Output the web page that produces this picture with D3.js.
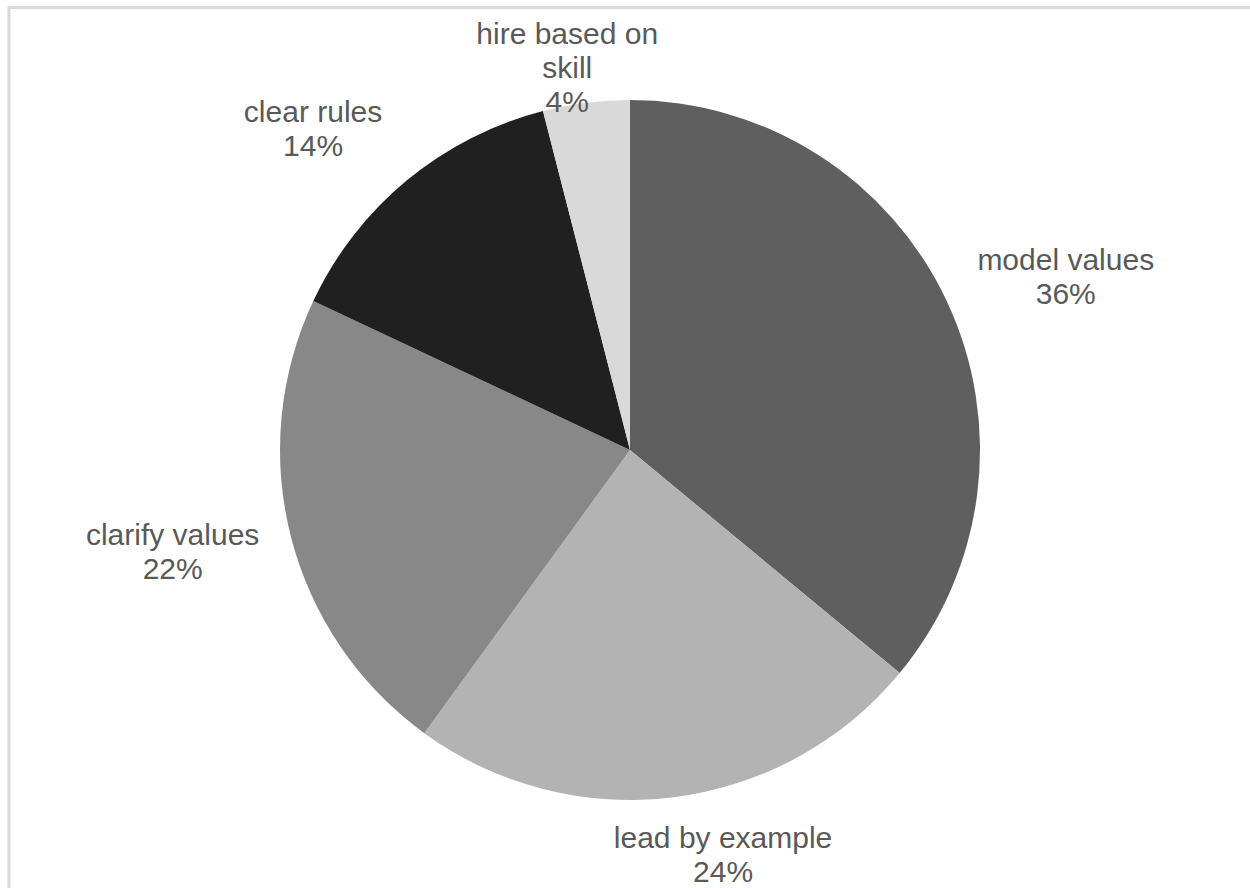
<!DOCTYPE html>
<html>
<head>
<meta charset="utf-8">
<script src="https://d3js.org/d3.v7.min.js"></script>
<style>
  body { margin: 0; background: #fff; }
  svg { display: block; }
  .slice-label { font-family: "Liberation Sans", Arial, sans-serif; font-size: 30px; fill: #595959; }
</style>
</head>
<body>
<svg class="pie-chart" width="1250" height="888"></svg>
<script>
// the data - categories and their share (percent), clockwise from 12 o'clock
var categories = ["model values", "lead by example", "clarify values", "clear rules", "hire based on skill"];
var shares = [36, 24, 22, 14, 4];
// label text as it wraps in the chart
var labelLines = [["model values"], ["lead by example"], ["clarify values"], ["clear rules"], ["hire based on", "skill"]];

// fills per slice
var fills = ["#5f5f5f", "#b3b3b3", "#888888", "#202020", "#d9d9d9"];
// small layout tweaks so labels sit where the original put them
var labelNudge = [[21, -1], [33, 4], [-15, 2], [-37, -10], [-5, 36]];

var svg = d3.select("svg.pie-chart"),
    width = +svg.attr("width"),
    height = +svg.attr("height");

var cx = 630, cy = 450, radius = 350,
    lineHeight = 34, gap = 20;

// chart frame (runs off the right and bottom edge)
svg.append("rect")
    .attr("x", 9)
    .attr("y", 7.5)
    .attr("width", width + 20)
    .attr("height", height + 20)
    .attr("fill", "none")
    .attr("stroke", "#d9d9d9")
    .attr("stroke-width", 3);

var data = categories.map(function (c, i) {
    return { name: c, value: shares[i], lines: labelLines[i], fill: fills[i], nudge: labelNudge[i] };
});

var pie = d3.pie()
    .sort(null)
    .value(function (d) { return d.value; });

var arc = d3.arc()
    .innerRadius(0)
    .outerRadius(radius);

var arcs = pie(data);

var g = svg.append("g")
    .attr("transform", "translate(" + cx + "," + cy + ")");

g.append("g")
    .attr("class", "slices")
    .selectAll("path")
    .data(arcs)
    .enter().append("path")
    .attr("d", arc)
    .attr("fill", function (d) { return d.data.fill; });

// labels: name lines + percentage, pushed just outside the rim
var label = g.append("g")
    .attr("class", "labels")
    .selectAll("text")
    .data(arcs)
    .enter().append("text")
    .attr("class", "slice-label")
    .attr("text-anchor", "middle");

label.each(function (d) {
    var t = d3.select(this);
    var lines = d.data.lines.concat([d.data.value + "%"]);
    var n = lines.length;
    lines.forEach(function (s, i) {
        t.append("tspan")
            .attr("x", 0)
            .attr("y", (i - (n - 1) / 2) * lineHeight + 10)
            .text(s);
    });
    var w = this.getBBox().width,
        h = n * lineHeight;
    var a = (d.startAngle + d.endAngle) / 2,
        sx = Math.sin(a), sy = -Math.cos(a);
    var px = (radius + gap) * sx + sx * w / 2 + d.data.nudge[0],
        py = (radius + gap) * sy + sy * h / 2 + d.data.nudge[1];
    t.attr("transform", "translate(" + px + "," + py + ")");
});
</script>
</body>
</html>
